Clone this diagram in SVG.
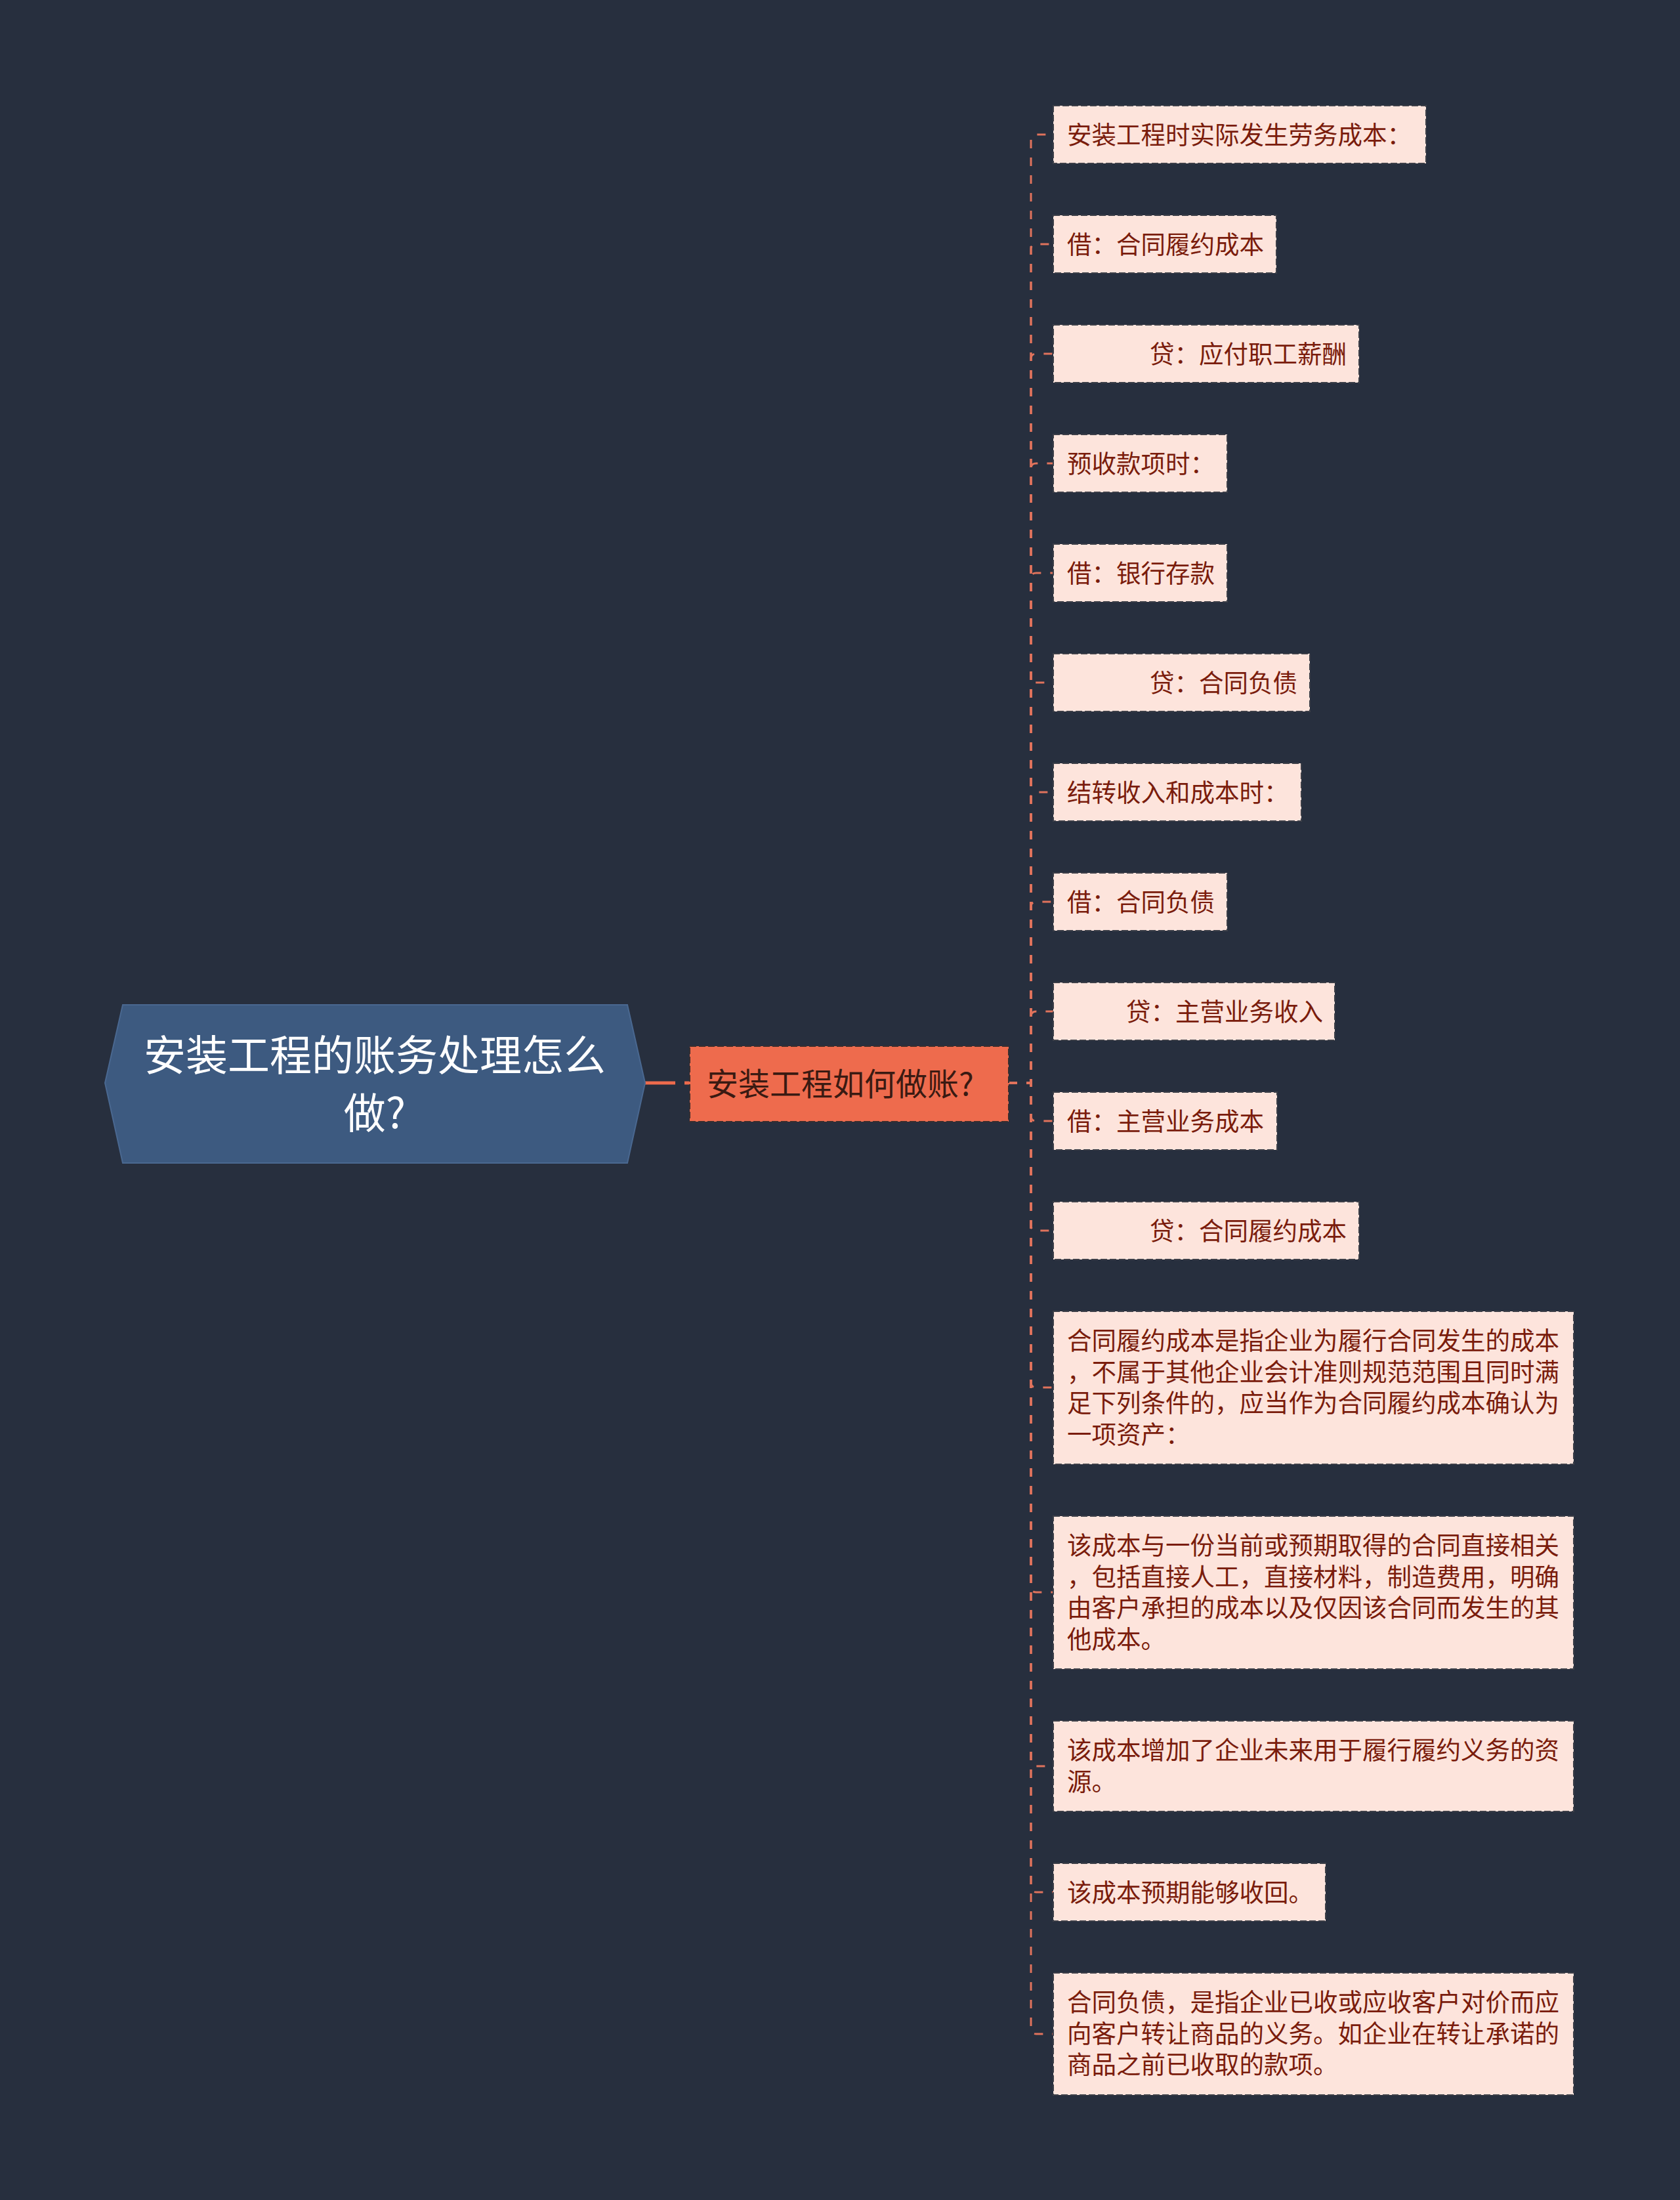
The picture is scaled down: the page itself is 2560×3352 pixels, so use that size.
<svg xmlns="http://www.w3.org/2000/svg" width="2560" height="3352" viewBox="0 0 2560 3352">
<style>
.leaf rect{fill:#fde4dc;stroke:#3c3f48;stroke-width:2;stroke-dasharray:10 4}
.leaf text{font-family:"Noto Sans CJK SC","Noto Sans",sans-serif;font-size:37.5px;fill:#7a1c0c;dominant-baseline:central}
.conn{fill:none;stroke:#e0735c;stroke-width:3;stroke-dasharray:13 14}
</style>
<rect x="0" y="0" width="2560" height="3352" fill="#272f3e"/>
<g id="connectors">
<path d="M983,1650 H1051" fill="none" stroke="#ee6b4d" stroke-width="5" stroke-dasharray="46 14"/>
<path class="conn" d="M1537,1650 H1571 V213 Q1571,205 1579,205 H1605"/>
<path class="conn" d="M1537,1650 H1571 V380 Q1571,372 1579,372 H1605"/>
<path class="conn" d="M1537,1650 H1571 V547 Q1571,539 1579,539 H1605"/>
<path class="conn" d="M1537,1650 H1571 V714 Q1571,706 1579,706 H1605"/>
<path class="conn" d="M1537,1650 H1571 V881 Q1571,873 1579,873 H1605"/>
<path class="conn" d="M1537,1650 H1571 V1048 Q1571,1040 1579,1040 H1605"/>
<path class="conn" d="M1537,1650 H1571 V1215 Q1571,1207 1579,1207 H1605"/>
<path class="conn" d="M1537,1650 H1571 V1382 Q1571,1374 1579,1374 H1605"/>
<path class="conn" d="M1537,1650 H1571 V1549 Q1571,1541 1579,1541 H1605"/>
<path class="conn" d="M1537,1650 H1571 V1700 Q1571,1708 1579,1708 H1605"/>
<path class="conn" d="M1537,1650 H1571 V1867 Q1571,1875 1579,1875 H1605"/>
<path class="conn" d="M1537,1650 H1571 V2106 Q1571,2114 1579,2114 H1605"/>
<path class="conn" d="M1537,1650 H1571 V2418 Q1571,2426 1579,2426 H1605"/>
<path class="conn" d="M1537,1650 H1571 V2683 Q1571,2691 1579,2691 H1605"/>
<path class="conn" d="M1537,1650 H1571 V2875 Q1571,2883 1579,2883 H1605"/>
<path class="conn" d="M1537,1650 H1571 V3091 Q1571,3099 1579,3099 H1605"/>
</g>
<g id="root">
<polygon points="187,1531 956,1531 983,1650 956,1772 187,1772 160,1650" fill="#3d5a80" stroke="#4a6890" stroke-width="2"/>
<text text-anchor="middle" dominant-baseline="central" font-family="Noto Sans CJK SC, Noto Sans, sans-serif" font-size="64" fill="#ffffff"><tspan x="571" y="1603">安装工程的账务处理怎么</tspan><tspan x="571" y="1691">做?</tspan></text>
</g>
<g id="center">
<rect x="1051" y="1594" width="486" height="115" fill="#ee6b4d" stroke="#3a2e2e" stroke-width="2" stroke-dasharray="10 4"/>
<text x="1077" y="1648" dominant-baseline="central" font-family="Noto Sans CJK SC, Noto Sans, sans-serif" font-size="48" fill="#3a1a12">安装工程如何做账?</text>
</g>
<g id="leaf1" class="leaf"><rect x="1605" y="161" width="568" height="88"/><text x="1626" y="202">安装工程时实际发生劳务成本：</text></g>
<g id="leaf2" class="leaf"><rect x="1605" y="328" width="340" height="88"/><text x="1626" y="369">借：合同履约成本</text></g>
<g id="leaf3" class="leaf"><rect x="1605" y="495" width="466" height="88"/><text x="1752" y="536">贷：应付职工薪酬</text></g>
<g id="leaf4" class="leaf"><rect x="1605" y="662" width="265" height="88"/><text x="1626" y="703">预收款项时：</text></g>
<g id="leaf5" class="leaf"><rect x="1605" y="829" width="265" height="88"/><text x="1626" y="870">借：银行存款</text></g>
<g id="leaf6" class="leaf"><rect x="1605" y="996" width="391" height="88"/><text x="1752" y="1037">贷：合同负债</text></g>
<g id="leaf7" class="leaf"><rect x="1605" y="1163" width="378" height="88"/><text x="1626" y="1204">结转收入和成本时：</text></g>
<g id="leaf8" class="leaf"><rect x="1605" y="1330" width="265" height="88"/><text x="1626" y="1371">借：合同负债</text></g>
<g id="leaf9" class="leaf"><rect x="1605" y="1497" width="429" height="88"/><text x="1716" y="1538">贷：主营业务收入</text></g>
<g id="leaf10" class="leaf"><rect x="1605" y="1664" width="341" height="88"/><text x="1626" y="1705">借：主营业务成本</text></g>
<g id="leaf11" class="leaf"><rect x="1605" y="1831" width="466" height="88"/><text x="1752" y="1872">贷：合同履约成本</text></g>
<g id="leaf12" class="leaf"><rect x="1605" y="1998" width="793" height="233"/>
<text><tspan x="1626" y="2039">合同履约成本是指企业为履行合同发生的成本</tspan><tspan x="1626" y="2087">，不属于其他企业会计准则规范范围且同时满</tspan><tspan x="1626" y="2134">足下列条件的，应当作为合同履约成本确认为</tspan><tspan x="1626" y="2182">一项资产：</tspan></text></g>
<g id="leaf13" class="leaf"><rect x="1605" y="2310" width="793" height="233"/>
<text><tspan x="1626" y="2351">该成本与一份当前或预期取得的合同直接相关</tspan><tspan x="1626" y="2399">，包括直接人工，直接材料，制造费用，明确</tspan><tspan x="1626" y="2446">由客户承担的成本以及仅因该合同而发生的其</tspan><tspan x="1626" y="2494">他成本。</tspan></text></g>
<g id="leaf14" class="leaf"><rect x="1605" y="2622" width="793" height="138"/>
<text><tspan x="1626" y="2663">该成本增加了企业未来用于履行履约义务的资</tspan><tspan x="1626" y="2711">源。</tspan></text></g>
<g id="leaf15" class="leaf"><rect x="1605" y="2839" width="415" height="88"/><text x="1626" y="2880">该成本预期能够收回。</text></g>
<g id="leaf16" class="leaf"><rect x="1605" y="3006" width="793" height="186"/>
<text><tspan x="1626" y="3047">合同负债，是指企业已收或应收客户对价而应</tspan><tspan x="1626" y="3095">向客户转让商品的义务。如企业在转让承诺的</tspan><tspan x="1626" y="3142">商品之前已收取的款项。</tspan></text></g>
</svg>
